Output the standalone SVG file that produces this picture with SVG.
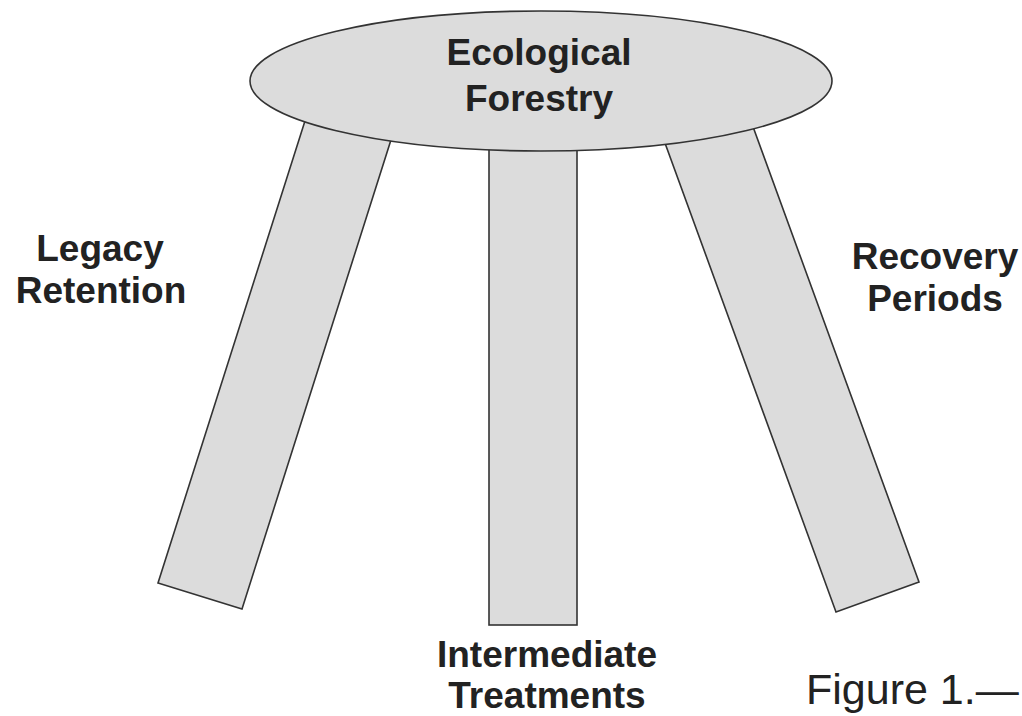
<svg xmlns="http://www.w3.org/2000/svg" width="1022" height="716" viewBox="0 0 1022 716">
<style>
.shape{fill:#dcdcdc;stroke:#333;stroke-width:1.6}
.lbl{font-family:"Liberation Sans",Arial,sans-serif;font-weight:bold;font-size:37px;fill:#222;text-anchor:middle}
.cap{font-family:"Liberation Sans",Arial,sans-serif;font-size:43px;fill:#222}
</style>
<rect width="1022" height="716" fill="#fff"/>
<g id="connectors"></g>
<g id="leg-left">
<polygon class="shape" points="318,80 410,80 242,609 158,583"/>
<text class="lbl" x="100" y="261">Legacy</text>
<text class="lbl" x="101" y="303">Retention</text>
</g>
<g id="leg-middle">
<rect class="shape" x="489" y="100" width="88" height="525"/>
<text class="lbl" x="547" y="667">Intermediate</text>
<text class="lbl" x="547" y="708">Treatments</text>
</g>
<g id="leg-right">
<polygon class="shape" points="642,80 736,80 919,582 836,612"/>
<text class="lbl" x="935" y="269">Recovery</text>
<text class="lbl" x="935" y="311">Periods</text>
</g>
<g id="seat">
<ellipse class="shape" cx="541" cy="81" rx="291" ry="70"/>
<text class="lbl" x="539" y="65">Ecological</text>
<text class="lbl" x="539" y="111">Forestry</text>
</g>
<text class="cap" x="806" y="704">Figure 1.—</text>
</svg>
